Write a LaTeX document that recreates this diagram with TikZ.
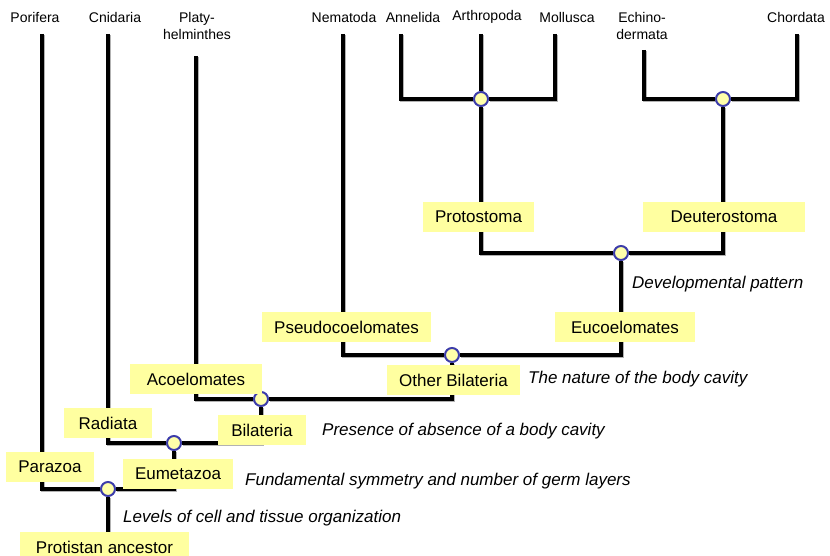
\documentclass[tikz,border=0pt]{standalone}
\usepackage{fontspec}
\setmainfont{Liberation Sans}
\usetikzlibrary{backgrounds}
\definecolor{boxyellow}{RGB}{255,255,160}
\definecolor{nodeyellow}{RGB}{255,255,170}
\definecolor{nodeblue}{RGB}{60,60,170}
\begin{document}
\begin{tikzpicture}[x=1bp,y=-1bp,
  taxon/.style={font=\fontsize{14bp}{17bp}\selectfont, align=center, inner sep=0},
  group/.style={fill=boxyellow, inner sep=0, minimum height=30bp, font=\fontsize{17bp}{20bp}\selectfont},
  note/.style={anchor=west, inner sep=0, font=\fontsize{17bp}{20bp}\selectfont\itshape},
  junction/.style={circle, draw=nodeblue, fill=nodeyellow, line width=2bp, minimum size=14bp, inner sep=0},
  branch/.style={line width=4bp, line join=miter, draw=black,
    preaction={draw=black!30, line width=4bp, transform canvas={shift={(1.3bp,-1.3bp)}}}}]
\useasboundingbox (0,0) rectangle (830,556);

% taxa
\node[taxon] (Por) at (35,17) {Porifera};
\node[taxon] (Cni) at (115,17) {Cnidaria};
\node[taxon] (Pla) at (197,25.5) {Platy-\\helminthes};
\node[taxon] (Nem) at (344,17) {Nematoda};
\node[taxon] (Ann) at (413,17) {Annelida};
\node[taxon] (Art) at (487,17) {Arthropoda};
\node[taxon] (Mol) at (567,17) {Mollusca};
\node[taxon] (Ech) at (642,25.5) {Echino-\\dermata};
\node[taxon] (Cho) at (796,17) {Chordata};

% branch tips
\coordinate (tPor) at (42,34);
\coordinate (tCni) at (108,34);
\coordinate (tPla) at (196,56);
\coordinate (tNem) at (343,34);
\coordinate (tAnn) at (401,34);
\coordinate (tArt) at (481,34);
\coordinate (tMol) at (555,34);
\coordinate (tEch) at (644,50);
\coordinate (tCho) at (797,34);
\coordinate (root) at (108,550);

% junctions
\node[junction] (n1) at (108,489) {};
\node[junction] (n2) at (174,443) {};
\node[junction] (n3) at (261,399) {};
\node[junction] (n4) at (452,355) {};
\node[junction] (n5) at (621,253) {};
\node[junction] (n6) at (481,99) {};
\node[junction] (n7) at (723,99) {};

% group labels
\node[group, minimum width=169bp] (Pro) at (104.5,547) {Protistan ancestor};
\node[group, minimum width=88bp] (Par) at (50,467) {Parazoa};
\node[group, minimum width=110bp] (Eum) at (178,474) {Eumetazoa};
\node[group, minimum width=88bp] (Rad) at (108,423) {Radiata};
\node[group, minimum width=88bp] (Bil) at (262,430) {Bilateria};
\node[group, minimum width=132bp] (Aco) at (196,379) {Acoelomates};
\node[group, minimum width=133bp] (Oth) at (453.5,380) {Other Bilateria};
\node[group, minimum width=169bp] (Pse) at (346.5,327) {Pseudocoelomates};
\node[group, minimum width=140bp] (Euc) at (625,327) {Eucoelomates};
\node[group, minimum width=111bp] (Prs) at (478.5,217) {Protostoma};
\node[group, minimum width=162bp] (Deu) at (724,217) {Deuterostoma};

% notes
\node[note] (d1) at (632,284) {Developmental pattern};
\node[note] (d2) at (528,379) {The nature of the body cavity};
\node[note] (d3) at (322,431) {Presence of absence of a body cavity};
\node[note] (d4) at (245,481) {Fundamental symmetry and number of germ layers};
\node[note] (d5) at (123,518) {Levels of cell and tissue organization};

\begin{scope}[on background layer]
  \draw[branch] (root) -- (n1);
  \draw[branch] (tPor) |- (n1);
  \draw[branch] (n1) -| (n2);
  \draw[branch] (tCni) |- (n2);
  \draw[branch] (n2) -| (n3);
  \draw[branch] (tPla) |- (n3);
  \draw[branch] (n3) -| (n4);
  \draw[branch] (tNem) |- (n4);
  \draw[branch] (n4) -| (n5);
  \draw[branch] (n6) |- (n5);
  \draw[branch] (n5) -| (n7);
  \draw[branch] (tAnn) |- (n6);
  \draw[branch] (tArt) -- (n6);
  \draw[branch] (tMol) |- (n6);
  \draw[branch] (tEch) |- (n7);
  \draw[branch] (tCho) |- (n7);
\end{scope}
\end{tikzpicture}
\end{document}
